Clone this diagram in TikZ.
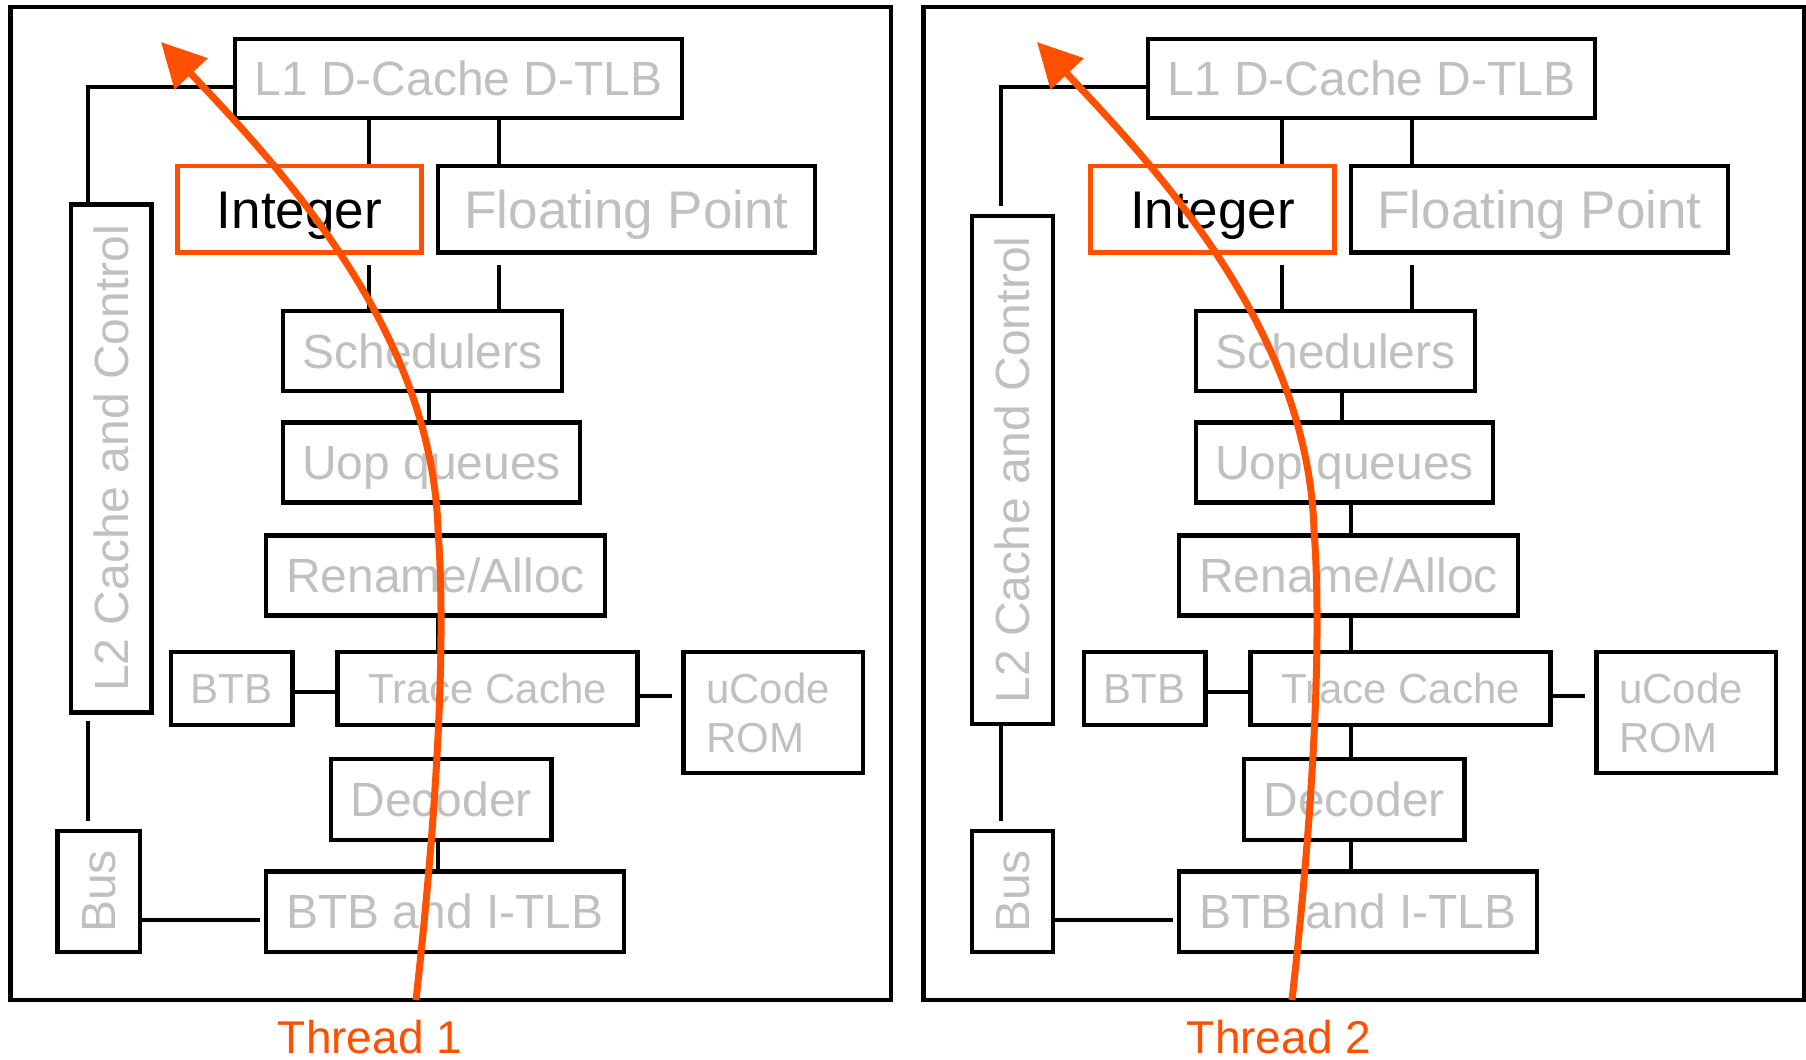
\documentclass[tikz,border=0pt]{standalone}
\usepackage{fontspec}
\setmainfont{Liberation Sans}
\usetikzlibrary{arrows.meta}

\definecolor{lbl}{RGB}{192,192,192}
\definecolor{thr}{RGB}{255,80,0}

\newcommand\lblfont{\fontsize{24pt}{28pt}\selectfont}
\newcommand\bigfont{\fontsize{26.5pt}{31pt}\selectfont}
\newcommand\smallfont{\fontsize{21pt}{24.5pt}\selectfont}
\newcommand\thrfont{\fontsize{23pt}{27pt}\selectfont}

\tikzset{
  dims/.style 2 args={minimum width=#1*0.5pt, minimum height=#2*0.5pt},
  blk/.style={draw=black, line width=2.4pt, inner sep=0pt, text=lbl},
  unitbox/.style={blk, font=\lblfont, text height=17.2pt, text depth=0pt},
  smallbox/.style={blk, font=\smallfont, text height=15pt, text depth=0pt},
  fpbox/.style={blk, font=\bigfont, text height=19pt, text depth=0pt},
  intbox/.style={fpbox, draw=thr, line width=2.3pt, text=black},
  romblock/.style={blk, font=\smallfont, align=left, text width=67.25pt, inner xsep=11.25pt},
  wire/.style={line width=2pt},
  frame/.style={line width=2.4pt},
  thread/.style={draw=thr, line width=3.5pt, -{Triangle[length=22pt,width=22pt]}},
  thrlabel/.style={text=thr, font=\thrfont, anchor=base, inner sep=0pt},
}

% blocks and wires shared by both cores
\newcommand\corebody{%
  \draw[frame] (10.5,7) rectangle (891,1000);
  \node[unitbox, dims={447}{79}] (L1) at (458.5,78.5) {L1 D-Cache D-TLB};
  \node[intbox, dims={244}{86.5}] (Int) at (299.5,209.25) {Integer};
  \node[fpbox, dims={377}{86.5}] (FP) at (626.5,209.25) {Floating Point};
  \node[unitbox, dims={279}{80}] (Sch) at (422.5,351) {Schedulers};
  \node[unitbox, dims={297}{80}] (Uop) at (431.5,462.5) {Uop queues};
  \node[unitbox, dims={339}{80}] (Ren) at (435.5,575.5) {Rename/Alloc};
  \node[smallbox, dims={121.5}{73}] (BTB) at (231.75,688.5) {BTB};
  \node[smallbox, dims={300}{73}] (TC) at (487.5,688.5) {Trace Cache};
  \node[romblock, dims={179.5}{121}] (uC) at (773.25,712.5) {uCode\\ROM};
  \node[unitbox, dims={220.5}{81}] (Dec) at (441.25,799.5) {Decoder};
  \node[unitbox, dims={358}{80.5}] (BIT) at (445,911.75) {BTB and I-TLB};
  % wire tracks
  \coordinate (xa) at (368.5,0);
  \coordinate (xb) at (498.5,0);
  \coordinate (xc) at (428.5,0);
  \coordinate (xd) at (437.5,0);
  \coordinate (yb) at (0,691.5);
  \coordinate (yu) at (0,695.5);
  \draw[wire] (L1.south -| xa) -- (Int.north -| xa);
  \draw[wire] (L1.south -| xb) -- (FP.north -| xb);
  \draw[wire, shorten <=5pt] (Int.south -| xa) -- (Sch.north -| xa);
  \draw[wire, shorten <=5pt] (FP.south -| xb) -- (Sch.north -| xb);
  \draw[wire] (Sch.south -| xc) -- (Uop.north -| xc);
  \draw[wire] (Uop.south -| xd) -- (Ren.north -| xd);
  \draw[wire] (Ren.south -| xd) -- (TC.north -| xd);
  \draw[wire] (TC.south -| xd) -- (Dec.north -| xd);
  \draw[wire] (Dec.south -| xd) -- (BIT.north -| xd);
  \draw[wire] (BTB.east |- yb) -- (TC.west |- yb);
  \draw[wire, shorten >=4.75pt] (TC.east |- yu) -- (uC.west |- yu);
  \coordinate (bend) at (88,87);
  \coordinate (drop) at (88,0);
  \coordinate (ybus) at (0,920);
}

% path of one hardware thread through a core
\newcommand\threadpath{%
  \draw[thread] (416,1000) .. controls (435,830) and (447,650) .. (438,530)
    .. controls (432,330) and (282,170) .. (161,42);
}

\begin{document}
\begin{tikzpicture}[x=0.5pt, y=-0.5pt]
  \fill[white] (0,0) rectangle (1806,1060);
  \useasboundingbox (0,0) rectangle (1806,1060);

  % core 1
  \begin{scope}[name prefix=a-]
    \corebody
    \node[unitbox, rotate=90, dims={508}{80.5}] (L2) at (111.25,458.5) {L2 Cache and Control};
    \node[unitbox, rotate=90, dims={121}{82.5}] (Bus) at (98.75,891.5) {Bus};
    \draw[wire] (L1.west |- bend) -- (bend) -- (bend |- L2.east);
    \draw[wire, shorten <=3.25pt, shorten >=4pt] (L2.west -| drop) -- (Bus.east -| drop);
    \draw[wire, shorten >=2pt] (Bus.south |- ybus) -- (BIT.west |- ybus);
  \end{scope}

  % core 2
  \begin{scope}[shift={(913,0)}, name prefix=b-]
    \corebody
    \node[unitbox, rotate=90, dims={508}{81}] (L2) at (99.5,470) {L2 Cache and Control};
    \node[unitbox, rotate=90, dims={121}{81}] (Bus) at (99.5,891.5) {Bus};
    \draw[wire, shorten >=4pt] (L1.west |- bend) -- (bend) -- (bend |- L2.east);
    \draw[wire, shorten >=4pt] (L2.west -| drop) -- (Bus.east -| drop);
    \draw[wire, shorten >=2pt] (Bus.south |- ybus) -- (BIT.west |- ybus);
  \end{scope}

  % threads
  \begin{scope}
    \threadpath
  \end{scope}
  \begin{scope}[shift={(876,0)}]
    \threadpath
  \end{scope}
  \node[thrlabel] (t1) at (370,1053) {Thread 1};
  \node[thrlabel] (t2) at (1279,1053) {Thread 2};
\end{tikzpicture}
\end{document}
